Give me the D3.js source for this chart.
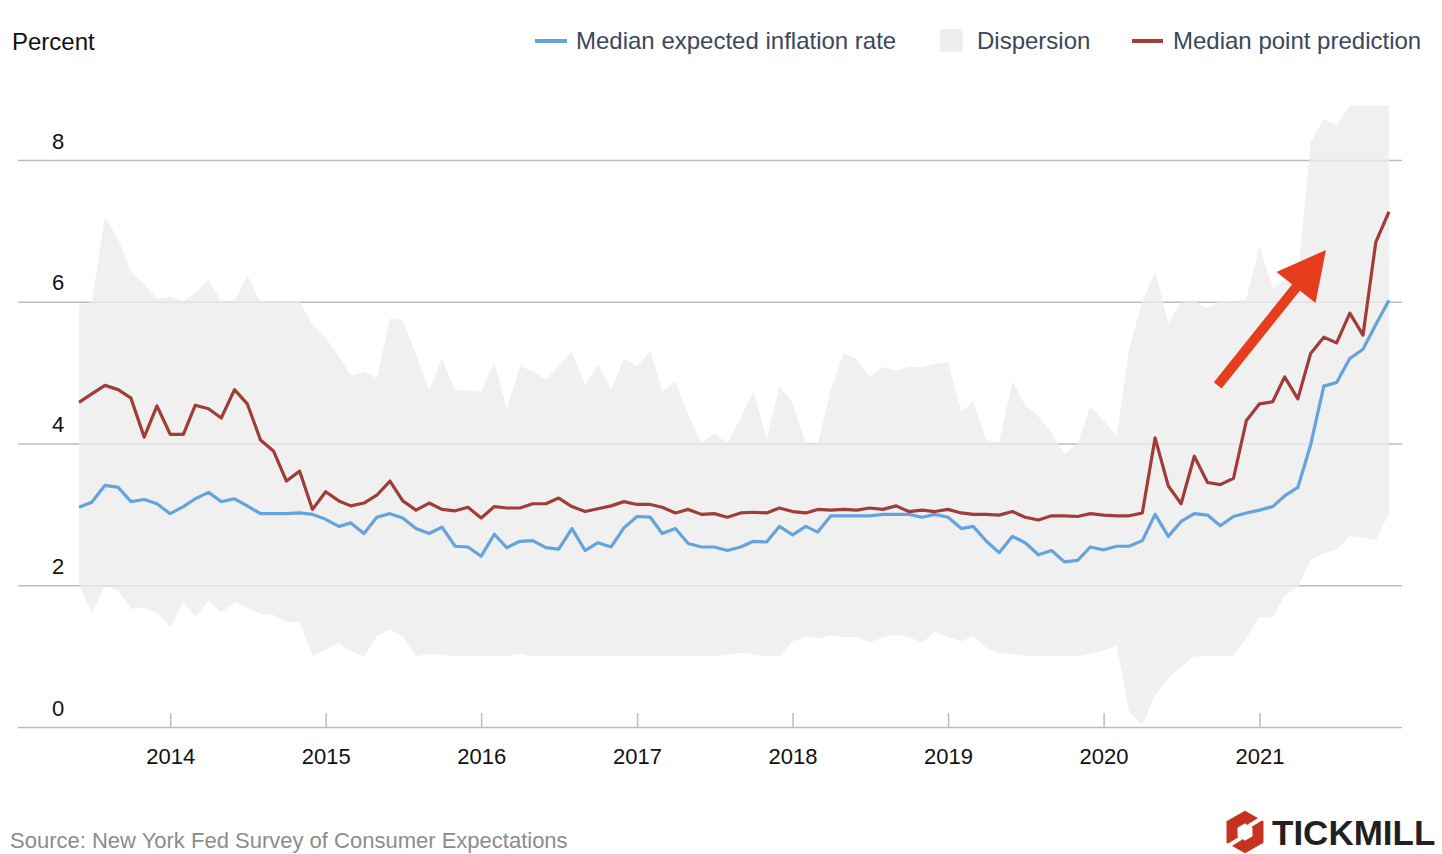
<!DOCTYPE html>
<html>
<head>
<meta charset="utf-8">
<script src="https://cdn.jsdelivr.net/npm/d3@7"></script>
<style>
  body { margin: 0; background: #fff; }
  svg { display: block; font-family: "Liberation Sans", Arial, Helvetica, sans-serif; }
</style>
</head>
<body>
<div id="chart"></div>
<script>
/* Monthly survey readings, Jun 2013 .. Nov 2021 */
const months = d3.timeMonth.range(new Date(2013, 5, 1), new Date(2021, 11, 1));

// Median point prediction (red)
const pointPrediction = [
  4.58, 4.70, 4.82, 4.76, 4.64, 4.09, 4.53, 4.13, 4.13, 4.54,
  4.49, 4.36, 4.76, 4.56, 4.05, 3.89, 3.47, 3.61, 3.07, 3.32,
  3.19, 3.12, 3.16, 3.27, 3.47, 3.19, 3.06, 3.16, 3.07, 3.05,
  3.10, 2.95, 3.11, 3.09, 3.09, 3.15, 3.15, 3.23, 3.11, 3.04,
  3.08, 3.12, 3.18, 3.14, 3.14, 3.10, 3.02, 3.07, 3.00, 3.01,
  2.96, 3.02, 3.03, 3.02, 3.09, 3.04, 3.02, 3.07, 3.06, 3.07,
  3.06, 3.09, 3.07, 3.12, 3.04, 3.06, 3.04, 3.07, 3.02, 3.00,
  3.00, 2.99, 3.04, 2.96, 2.92, 2.98, 2.98, 2.97, 3.01, 2.99,
  2.98, 2.98, 3.02, 4.08, 3.40, 3.15, 3.82, 3.45, 3.42, 3.51,
  4.32, 4.56, 4.59, 4.94, 4.63, 5.27, 5.50, 5.42, 5.84, 5.53,
  6.84, 7.27
];

// Median expected inflation rate (blue)
const expectedRate = [
  3.10, 3.17, 3.41, 3.38, 3.18, 3.21, 3.15, 3.01, 3.11, 3.22,
  3.31, 3.18, 3.22, 3.12, 3.01, 3.01, 3.01, 3.02, 3.00, 2.93,
  2.83, 2.88, 2.73, 2.96, 3.01, 2.95, 2.80, 2.73, 2.82, 2.55,
  2.54, 2.41, 2.72, 2.53, 2.62, 2.63, 2.53, 2.51, 2.80, 2.49,
  2.60, 2.54, 2.81, 2.97, 2.96, 2.73, 2.80, 2.59, 2.54, 2.54,
  2.49, 2.54, 2.62, 2.61, 2.83, 2.71, 2.83, 2.75, 2.98, 2.98,
  2.98, 2.98, 3.00, 3.00, 3.00, 2.96, 3.00, 2.96, 2.80, 2.83,
  2.62, 2.46, 2.69, 2.60, 2.43, 2.49, 2.33, 2.35, 2.54, 2.50,
  2.55, 2.55, 2.63, 3.00, 2.69, 2.90, 3.01, 2.99, 2.84, 2.97,
  3.02, 3.06, 3.11, 3.26, 3.38, 3.98, 4.81, 4.86, 5.20, 5.33,
  5.68, 6.02
];

// Dispersion band, upper and lower edge
const dispersionHigh = [
  5.96, 6.00, 7.20, 6.88, 6.42, 6.25, 6.04, 6.07, 6.01, 6.12,
  6.31, 6.00, 6.00, 6.37, 6.00, 6.00, 6.00, 6.00, 5.68, 5.49,
  5.23, 4.96, 5.01, 4.92, 5.76, 5.74, 5.26, 4.75, 5.20, 4.75,
  4.75, 4.73, 5.15, 4.49, 5.09, 5.02, 4.90, 5.09, 5.29, 4.82,
  5.12, 4.76, 5.20, 5.09, 5.30, 4.74, 4.87, 4.41, 4.00, 4.14,
  4.00, 4.36, 4.74, 4.06, 4.80, 4.58, 4.00, 4.00, 4.76, 5.28,
  5.19, 4.94, 5.08, 5.03, 5.08, 5.08, 5.12, 5.15, 4.45, 4.59,
  4.05, 4.01, 4.88, 4.54, 4.38, 4.15, 3.85, 4.00, 4.52, 4.32,
  4.11, 5.33, 6.01, 6.42, 5.70, 5.99, 6.02, 5.90, 6.02, 6.00,
  6.04, 6.78, 6.18, 6.31, 6.34, 8.25, 8.57, 8.49, 8.77, 8.77,
  8.77, 8.77
];
const dispersionLow = [
  2.00, 1.61, 2.00, 1.92, 1.67, 1.68, 1.61, 1.41, 1.76, 1.56,
  1.78, 1.62, 1.76, 1.69, 1.59, 1.58, 1.48, 1.48, 1.00, 1.09,
  1.18, 1.07, 1.00, 1.28, 1.38, 1.27, 1.00, 1.03, 1.02, 1.00,
  1.00, 1.00, 1.00, 1.00, 1.04, 1.00, 1.00, 1.00, 1.00, 1.00,
  1.00, 1.00, 1.00, 1.00, 1.00, 1.00, 1.00, 1.00, 1.00, 1.00,
  1.02, 1.05, 1.02, 1.00, 1.00, 1.21, 1.27, 1.25, 1.29, 1.27,
  1.27, 1.19, 1.27, 1.30, 1.27, 1.19, 1.34, 1.27, 1.21, 1.28,
  1.12, 1.04, 1.03, 1.01, 1.00, 1.00, 1.00, 1.00, 1.03, 1.08,
  1.15, 0.21, 0.02, 0.45, 0.69, 0.85, 1.00, 1.00, 1.00, 1.00,
  1.26, 1.55, 1.55, 1.85, 1.98, 2.36, 2.45, 2.50, 2.70, 2.67,
  2.64, 3.02
];

const yTicks = [0, 2, 4, 6, 8];
const legendItems = ["Median expected inflation rate", "Dispersion", "Median point prediction"];

const data = months.map((m, i) => ({
  date: m,
  red: pointPrediction[i],
  blue: expectedRate[i],
  hi: dispersionHigh[i],
  lo: dispersionLow[i]
}));

const width = 1442, height = 854;
const colors = { blue: "#64a3dd", red: "#9f3d38", band: "#ececec", grid: "#bdbdbd", legendText: "#3a475c" };

const svg = d3.select("#chart")
  .append("svg")
    .attr("width", width)
    .attr("height", height)
    .attr("viewBox", [0, 0, width, height]);

/* Scales */
const xScale = d3.scaleTime()
  .domain([months[0], months[months.length - 1]])
  .range([79, 1389]);

const yScale = d3.scaleLinear()
  .domain([0, 8])
  .range([727, 160]);

/* Horizontal gridlines with labels sitting above them */
const yAxis = svg.append("g")
  .attr("transform", "translate(18,0)")
  .call(d3.axisRight(yScale).tickValues(yTicks).tickSize(1384).tickFormat(d3.format("d")));
yAxis.select(".domain").remove();
yAxis.selectAll(".tick line").attr("stroke", colors.grid).attr("stroke-width", 1.3);
yAxis.selectAll(".tick text")
  .attr("x", 34).attr("dy", -12)
  .attr("text-anchor", "start")
  .attr("font-size", 22)
  .attr("fill", "#111");

/* Dispersion band, drawn semi-transparent over the gridlines */
const area = d3.area()
  .x(d => xScale(d.date))
  .y0(d => yScale(d.lo))
  .y1(d => yScale(d.hi));

svg.append("path")
  .datum(data)
  .attr("d", area)
  .attr("fill", colors.band)
  .attr("fill-opacity", 0.78);

/* Year ticks on the baseline */
const xAxis = svg.append("g")
  .attr("transform", `translate(0,${yScale(0)})`)
  .call(d3.axisBottom(xScale)
    .tickValues(d3.timeYear.range(new Date(2014, 0, 1), new Date(2021, 1, 1)))
    .tickFormat(d3.timeFormat("%Y"))
    .tickSize(-14)
    .tickPadding(21));
xAxis.select(".domain").remove();
xAxis.selectAll(".tick line").attr("stroke", colors.grid).attr("stroke-width", 1.5);
xAxis.selectAll(".tick text").attr("font-size", 22).attr("fill", "#111");

/* Lines */
const line = key => d3.line()
  .x(d => xScale(d.date))
  .y(d => yScale(d[key]));

svg.append("path")
  .datum(data)
  .attr("d", line("blue"))
  .attr("fill", "none")
  .attr("stroke", colors.blue)
  .attr("stroke-width", 3.2)
  .attr("stroke-linejoin", "round");

svg.append("path")
  .datum(data)
  .attr("d", line("red"))
  .attr("fill", "none")
  .attr("stroke", colors.red)
  .attr("stroke-width", 3.2)
  .attr("stroke-linejoin", "round");

/* Annotation arrow */
const tail = [xScale(new Date(2020, 8, 25)), yScale(4.82)];
const tip = [xScale(new Date(2021, 5, 6)), yScale(6.73)];
const ang = Math.atan2(tip[1] - tail[1], tip[0] - tail[0]);
const headLen = 48, headHalf = 25;
const base = [tip[0] - headLen * Math.cos(ang), tip[1] - headLen * Math.sin(ang)];
const perp = [-Math.sin(ang), Math.cos(ang)];
svg.append("line")
  .attr("x1", tail[0]).attr("y1", tail[1])
  .attr("x2", base[0] + 6 * Math.cos(ang)).attr("y2", base[1] + 6 * Math.sin(ang))
  .attr("stroke", "#e63d1f")
  .attr("stroke-width", 10);
svg.append("path")
  .attr("d", d3.line()([
    tip,
    [base[0] + perp[0] * headHalf, base[1] + perp[1] * headHalf],
    [base[0] - perp[0] * headHalf, base[1] - perp[1] * headHalf]
  ]) + "Z")
  .attr("fill", "#e63d1f");

/* Title and legend */
svg.append("text")
  .attr("x", 12).attr("y", 50)
  .attr("font-size", 24)
  .attr("fill", "#111")
  .text("Percent");

const legend = svg.append("g").attr("font-size", 24).attr("fill", colors.legendText);
legend.append("line")
  .attr("x1", 535).attr("x2", 567).attr("y1", 41).attr("y2", 41)
  .attr("stroke", colors.blue).attr("stroke-width", 4);
legend.append("text").attr("x", 576).attr("y", 49).text(legendItems[0]);
legend.append("rect")
  .attr("x", 940).attr("y", 29).attr("width", 23).attr("height", 23)
  .attr("fill", "#efefef");
legend.append("text").attr("x", 977).attr("y", 49).text(legendItems[1]);
legend.append("line")
  .attr("x1", 1132).attr("x2", 1163).attr("y1", 41).attr("y2", 41)
  .attr("stroke", colors.red).attr("stroke-width", 4);
legend.append("text").attr("x", 1173).attr("y", 49).text(legendItems[2]);

/* Source note */
svg.append("text")
  .attr("x", 10).attr("y", 848)
  .attr("font-size", 22)
  .attr("fill", "#8c8c8c")
  .text("Source: New York Fed Survey of Consumer Expectations");

/* Tickmill logo */
const logo = svg.append("g").attr("transform", "translate(1245,832)");
const hex = d3.range(6).map(k => {
  const a = Math.PI / 6 + k * Math.PI / 3;
  return [15 * Math.cos(a), 15 * Math.sin(a)];
});
logo.append("path")
  .attr("d", d3.line()(hex) + "Z")
  .attr("fill", "none")
  .attr("stroke", "#c5331f")
  .attr("stroke-width", 11)
  .attr("stroke-linejoin", "miter");
logo.append("line")
  .attr("x1", 4).attr("y1", -6).attr("x2", 22).attr("y2", -17)
  .attr("stroke", "#fff").attr("stroke-width", 4);
logo.append("line")
  .attr("x1", -4).attr("y1", 6).attr("x2", -22).attr("y2", 17)
  .attr("stroke", "#fff").attr("stroke-width", 4);
svg.append("text")
  .attr("x", 1272).attr("y", 845)
  .attr("font-size", 35)
  .attr("font-weight", "bold")
  .attr("fill", "#231f20")
  .text("TICKMILL");
</script>
</body>
</html>
